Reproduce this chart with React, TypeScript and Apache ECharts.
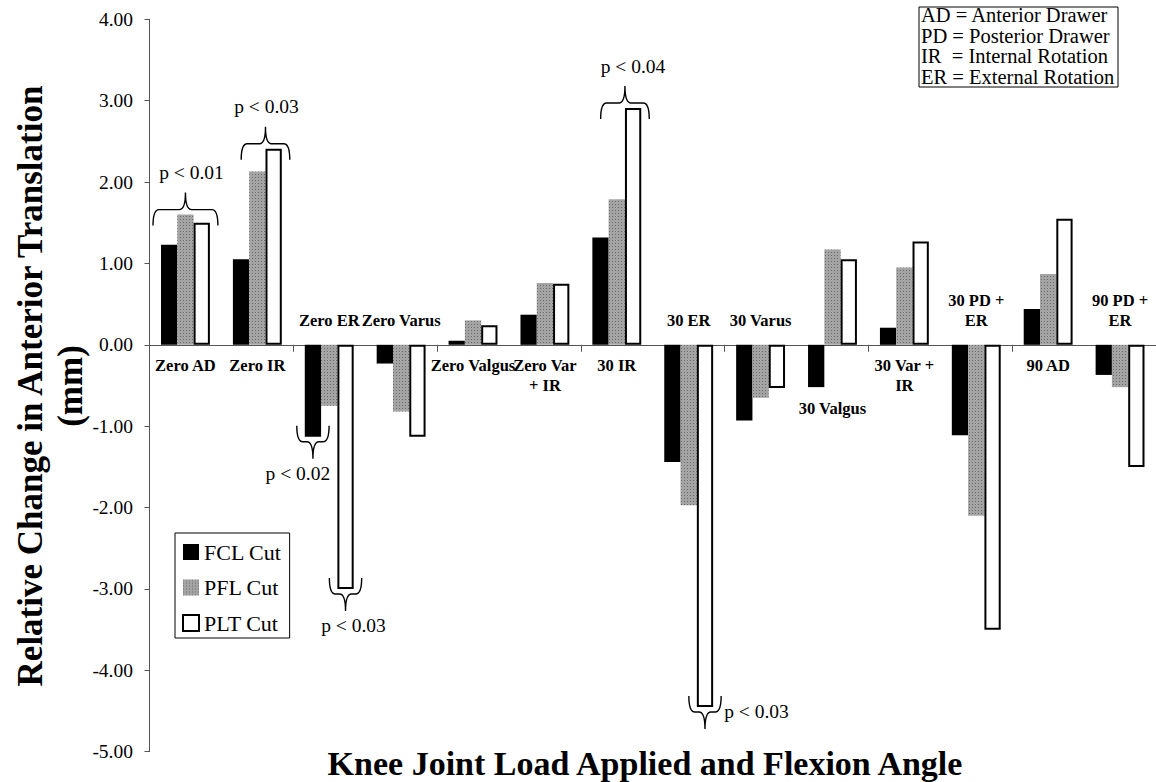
import React, { useEffect, useRef } from 'react';
import * as echarts from 'echarts';

const categories = [
  'Zero AD', 'Zero IR', 'Zero ER', 'Zero Varus', 'Zero Valgus', 'Zero Var\n+ IR', '30 IR',
  '30 ER', '30 Varus', '30 Valgus', '30 Var +\nIR', '30 PD +\nER', '90 AD', '90 PD +\nER',
];
const seriesNames = ['FCL Cut', 'PFL Cut', 'PLT Cut'];
const fclCut = [1.23, 1.05, -1.13, -0.23, 0.05, 0.37, 1.32, -1.44, -0.93, -0.52, 0.21, -1.11, 0.44, -0.37];
const pflCut = [1.60, 2.13, -0.75, -0.82, 0.30, 0.76, 1.79, -1.97, -0.65, 1.17, 0.95, -2.10, 0.87, -0.52];
const pltCut = [1.50, 2.41, -3.00, -1.13, 0.24, 0.75, 2.91, -4.45, -0.53, 1.05, 1.27, -3.50, 1.55, -1.50];
const yMin = -5;
const yMax = 4;
const yStep = 1;
const abbreviations = [
  'AD = Anterior Drawer',
  'PD = Posterior Drawer',
  'IR  = Internal Rotation',
  'ER = External Rotation',
];
const xTitle = 'Knee Joint Load Applied and Flexion Angle';
const yTitle = 'Relative Change in Anterior Translation\n(mm)';

// significance brackets: category, first bar, last bar, side, text, text shift
const significance = [
  { cat: 0, from: 0, to: 2, side: 'top', text: 'p < 0.01', dx: 6 },
  { cat: 1, from: 1, to: 2, side: 'top', text: 'p < 0.03', dx: 1 },
  { cat: 2, from: 0, to: 0, side: 'bottom', text: 'p < 0.02', dx: -15 },
  { cat: 2, from: 2, to: 2, side: 'bottom', text: 'p < 0.03', dx: 8 },
  { cat: 6, from: 1, to: 2, side: 'top', text: 'p < 0.04', dx: 8 },
  { cat: 7, from: 2, to: 2, side: 'right', text: 'p < 0.03', dx: 3 },
];

const SERIF = '"Liberation Serif", "Times New Roman", serif';
const GAP = 0.32;
const allSeries = [fclCut, pflCut, pltCut];

export default function App() {
  const ref = useRef<HTMLDivElement>(null);
  useEffect(() => {
    if (!ref.current) return;
    const chart = echarts.init(ref.current, null, { renderer: 'svg' });

    const categoryLabelItem = (params: any, api: any) => {
      const i = api.value(0);
      const vals = allSeries.map((s) => s[i]);
      const sum = vals.reduce((a, b) => a + b, 0);
      const zero = api.coord([i, 0]);
      let y: number;
      let va: string;
      if (sum > 0) {
        const low = api.coord([i, Math.min(0, ...vals)])[1];
        y = Math.max(zero[1] + 10, low + 11);
        va = 'top';
      } else {
        y = zero[1] - 14;
        va = 'bottom';
      }
      return {
        type: 'text',
        x: zero[0],
        y,
        style: {
          text: categories[i],
          fill: '#000',
          fontFamily: SERIF,
          fontWeight: 'bold',
          fontSize: 16.5,
          lineHeight: 20,
          align: 'center',
          verticalAlign: va,
        },
      };
    };

    const braceItem = (params: any, api: any) => {
      const a = significance[params.dataIndex];
      const vals = allSeries.slice(a.from, a.to + 1).map((s) => s[a.cat]);
      const center = api.coord([a.cat, 0]);
      const band = api.size([1, 0])[0];
      const groupW = band * (1 - GAP);
      const barW = groupW / 3;
      const left = center[0] - groupW / 2 + a.from * barW - 8;
      const right = center[0] - groupW / 2 + (a.to + 1) * barW + 8;
      const top = a.side === 'top';
      const extreme = top ? Math.max(...vals) : Math.min(...vals);
      const yBar = api.coord([a.cat, extreme])[1];
      const dir = top ? -1 : 1;
      const yh = yBar + dir * 5;
      const ye = yh - dir * 16;
      const yp = yh + dir * 17;
      const xm = (left + right) / 2;
      const r = 6;
      const d =
        `M${left} ${ye} Q${left} ${yh} ${left + r} ${yh} L${xm - r} ${yh} ` +
        `Q${xm} ${yh} ${xm} ${yp} Q${xm} ${yh} ${xm + r} ${yh} ` +
        `L${right - r} ${yh} Q${right} ${yh} ${right} ${ye}`;
      let tx: number;
      let ty: number;
      let align = 'center';
      if (a.side === 'top') {
        tx = xm + a.dx;
        ty = yp - 20;
      } else if (a.side === 'bottom') {
        tx = xm + a.dx;
        ty = yp + 15;
      } else {
        tx = right + a.dx;
        ty = yh;
        align = 'left';
      }
      return {
        type: 'group',
        children: [
          {
            type: 'path',
            shape: { pathData: d },
            style: { stroke: '#000', lineWidth: 1.4, fill: 'none' },
          },
          {
            type: 'text',
            x: tx,
            y: ty,
            style: {
              text: a.text,
              fill: '#000',
              fontFamily: SERIF,
              fontSize: 19.5,
              align,
              verticalAlign: 'middle',
            },
          },
        ],
      };
    };

    chart.setOption({
      animation: false,
      backgroundColor: '#fff',
      grid: { left: 149.5, right: 0, top: 19.3, bottom: 30.3, containLabel: false },
      legend: {
        data: seriesNames,
        orient: 'vertical',
        left: 175,
        top: 533,
        icon: 'rect',
        itemWidth: 16,
        itemHeight: 16,
        itemGap: 13.5,
        padding: [8, 8, 4, 7],
        borderColor: '#000',
        borderWidth: 1,
        backgroundColor: '#fff',
        textStyle: { fontFamily: SERIF, fontSize: 22, color: '#000', lineHeight: 22 },
      },
      xAxis: {
        type: 'category',
        data: categories,
        boundaryGap: true,
        axisLine: { onZero: true, lineStyle: { color: '#555', width: 1 } },
        axisTick: { show: true, length: 7, lineStyle: { color: '#555' } },
        axisLabel: { show: false },
        splitLine: { show: false },
      },
      yAxis: {
        type: 'value',
        min: yMin,
        max: yMax,
        interval: yStep,
        axisLine: { show: true, lineStyle: { color: '#555', width: 1 } },
        axisTick: { show: true, length: 5, lineStyle: { color: '#555' } },
        splitLine: { show: false },
        axisLabel: {
          formatter: (v: number) => v.toFixed(2),
          fontFamily: SERIF,
          fontSize: 19.5,
          color: '#000',
          margin: 16.5,
        },
      },
      series: [
        {
          name: seriesNames[0],
          type: 'bar',
          data: fclCut,
          barGap: '0%',
          barCategoryGap: GAP * 100 + '%',
          itemStyle: { color: '#000' },
        },
        {
          name: seriesNames[1],
          type: 'bar',
          data: pflCut,
          barGap: '0%',
          barCategoryGap: GAP * 100 + '%',
          itemStyle: {
            color: '#a4a4a4',
            decal: {
              symbol: 'rect',
              symbolSize: 1,
              dashArrayX: [1, 2],
              dashArrayY: [1, 2],
              color: 'rgba(60,60,60,0.55)',
              rotation: 0,
            },
          },
        },
        {
          name: seriesNames[2],
          type: 'bar',
          data: pltCut,
          barGap: '0%',
          barCategoryGap: GAP * 100 + '%',
          itemStyle: { color: '#fff', borderColor: '#000', borderWidth: 2 },
        },
        {
          type: 'custom',
          name: 'categoryLabels',
          clip: false,
          silent: true,
          data: categories.map((_, i) => [i, 0]),
          encode: { x: 0, y: 1 },
          renderItem: categoryLabelItem,
          z: 5,
        },
        {
          type: 'custom',
          name: 'significance',
          clip: false,
          silent: true,
          data: significance.map((s) => [s.cat, 0]),
          encode: { x: 0, y: 1 },
          renderItem: braceItem,
          z: 6,
        },
      ],
      graphic: [
        {
          type: 'text',
          x: 50,
          y: 386,
          rotation: Math.PI / 2,
          style: {
            text: yTitle,
            fill: '#000',
            font: `bold 35px ${SERIF}`,
            align: 'center',
            verticalAlign: 'middle',
            lineHeight: 40,
          },
        },
        {
          type: 'text',
          x: 645,
          y: 763,
          style: {
            text: xTitle,
            fill: '#000',
            font: `bold 34px ${SERIF}`,
            align: 'center',
            verticalAlign: 'middle',
          },
        },
        {
          type: 'rect',
          shape: { x: 919, y: 7, width: 199, height: 80 },
          style: { fill: '#fff', stroke: '#000', lineWidth: 1 },
        },
        {
          type: 'text',
          x: 921,
          y: 4.7,
          style: {
            text: abbreviations.join('\n'),
            fill: '#000',
            font: `20.5px ${SERIF}`,
            lineHeight: 20.7,
            align: 'left',
            verticalAlign: 'top',
          },
        },
      ],
    });
    return () => chart.dispose();
  }, []);
  return (
    <div
      ref={ref}
      style={{ position: 'fixed', left: 0, top: 0, width: 1156, height: 782, background: '#fff' }}
    />
  );
}
